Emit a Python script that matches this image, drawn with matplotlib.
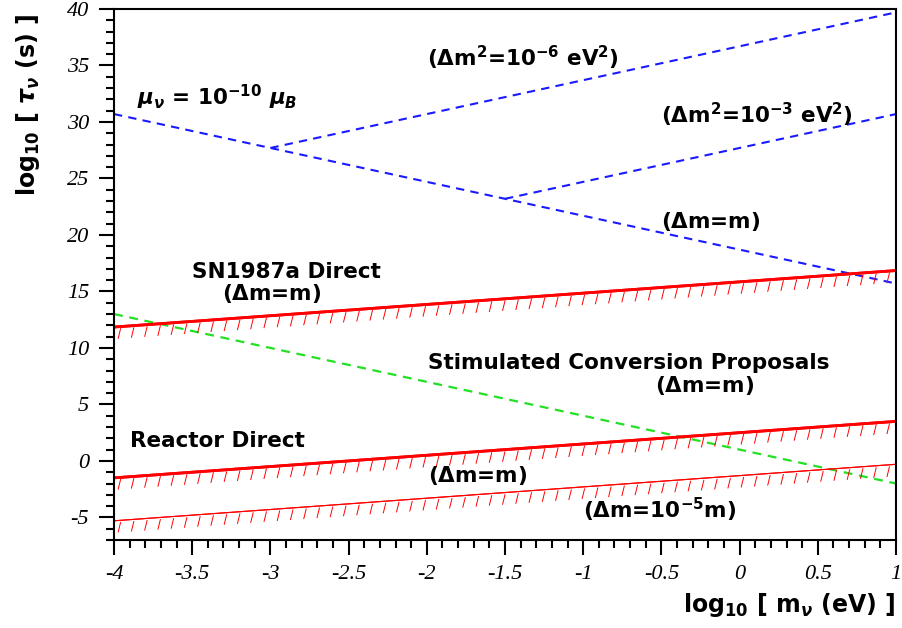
import numpy as np
import matplotlib
matplotlib.use("Agg")
import matplotlib.pyplot as plt
import matplotlib.patheffects as pe
from matplotlib.ticker import MultipleLocator

plt.rcParams['mathtext.fontset'] = 'custom'
plt.rcParams['mathtext.rm'] = 'DejaVu Sans:bold'
plt.rcParams['mathtext.it'] = 'DejaVu Sans:italic:bold'
plt.rcParams['mathtext.bf'] = 'DejaVu Sans:bold'

# log10 m (eV) endpoints and log10 tau (s) values for each line
mu_x = [-4, 1]
mu_y = [30.7, 15.7]
dm6_x = [-3, 1]
dm6_y = [27.7, 39.7]
dm3_x = [-1.5, 1]
dm3_y = [23.2, 30.7]
sn_x = [-4, 1]
sn_y = [11.85, 16.85]
stim_x = [-4, 1]
stim_y = [13.0, -2.0]
reac_x = [-4, 1]
reac_y = [-1.5, 3.5]
reac5_x = [-4, 1]
reac5_y = [-5.3, -0.3]

xticks = [-4, -3.5, -3, -2.5, -2, -1.5, -1, -0.5, 0, 0.5, 1]
xticklabels = ['-4', '-3.5', '-3', '-2.5', '-2', '-1.5', '-1', '-0.5', '0', '0.5', '1']
yticks = [-5, 0, 5, 10, 15, 20, 25, 30, 35, 40]

# labels: (x, y, text)
labels = [
    (-3.85, 32.2, r'$\mu_\nu$ = 10$^{-10}$ $\mu_B$'),
    (-2.0, 35.7, r'($\Delta$m$^2$=10$^{-6}$ eV$^2$)'),
    (-0.5, 30.6, r'($\Delta$m$^2$=10$^{-3}$ eV$^2$)'),
    (-0.5, 21.2, r'($\Delta$m=m)'),
    (-3.5, 16.7, 'SN1987a Direct'),
    (-3.31, 14.8, r'($\Delta$m=m)'),
    (-1.99, 8.7, 'Stimulated Conversion Proposals'),
    (-0.54, 6.7, r'($\Delta$m=m)'),
    (-3.90, 1.8, 'Reactor Direct'),
    (-1.99, -1.3, r'($\Delta$m=m)'),
    (-1.0, -4.3, r'($\Delta$m=10$^{-5}$m)'),
]

fig = plt.figure(figsize=(9.03, 6.28), dpi=100)
ax = fig.add_axes([114/903, 1-540/628, 782/903, 531/628])

blue = '#1a1aff'
dash = (0, (4, 3))
ax.plot(mu_x, mu_y, color=blue, lw=1.5, ls=dash)
ax.plot(dm6_x, dm6_y, color=blue, lw=1.5, ls=dash)
ax.plot(dm3_x, dm3_y, color=blue, lw=1.5, ls=dash)
ax.plot(stim_x, stim_y, color='#22e022', lw=1.6, ls=dash)

def hatched(x, y, lw):
    ticks = pe.withTickedStroke(spacing=9.5, angle=-108, length=0.75,
                                offset=(0, -1.5), linewidth=0.7)
    ax.plot(x, y, color='red', lw=lw,
            path_effects=[pe.Normal(), ticks])

hatched(sn_x, sn_y, 2.0)
hatched(reac_x, reac_y, 2.0)
hatched(reac5_x, reac5_y, 0.8)

for x, y, t in labels:
    ax.text(x, y, t, fontsize=15.5, fontweight='bold', family='DejaVu Sans',
            ha='left', va='center')

ax.set_xlim(-4, 1)
ax.set_ylim(-7, 40)
ax.set_xticks(xticks)
ax.set_xticklabels(xticklabels, family='Liberation Serif', style='italic', fontsize=16)
ax.set_yticks(yticks)
ax.set_yticklabels([str(v) for v in yticks],
                   family='Liberation Serif', style='italic', fontsize=16)
ax.xaxis.set_minor_locator(MultipleLocator(0.1))
ax.yaxis.set_minor_locator(MultipleLocator(1))
ax.tick_params(which='major', length=11, width=1.5, direction='out', pad=7,
               top=False, right=False)
ax.tick_params(which='minor', length=5.5, width=1.5, direction='out',
               top=False, right=False)
for s in ax.spines.values():
    s.set_linewidth(1.5)

fig.text(895/903, 1-605/628, r'log$_{10}$ [ m$_\nu$ (eV) ]', fontsize=17,
         fontweight='bold', ha='right', va='center')
fig.text(28/903, 1-105/628, r'log$_{10}$ [ $\tau_\nu$ (s) ]', fontsize=17,
         fontweight='bold', ha='center', va='center', rotation=90)

fig.savefig('out.png', dpi=100)
